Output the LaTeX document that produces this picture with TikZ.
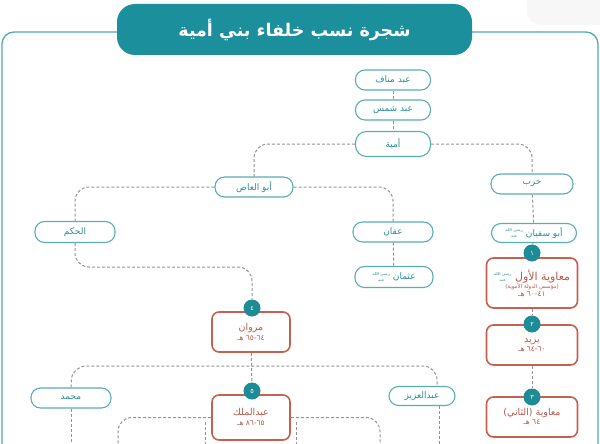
\documentclass[tikz,border=0pt]{standalone}
\usepackage{fontspec}
\TeXXeTstate=1
\newfontfamily\arabicfont[Script=Arabic]{DejaVu Sans}
\newfontfamily\iconfont[Script=Arabic,Color=6FAFB5]{DejaVu Sans Bold}
\definecolor{titlec}{HTML}{1B8F9B}
\definecolor{framec}{HTML}{4FA9AF}
\definecolor{pillc}{HTML}{5AADB3}
\definecolor{pilltxt}{HTML}{2B8F97}
\definecolor{redc}{HTML}{C8604F}
\definecolor{redtxt}{HTML}{B9594C}
\definecolor{badgec}{HTML}{1D8C97}
\newcommand{\rda}{\raisebox{-1.5pt}{\hbox{\iconfont\fontsize{3.8}{3.6}\selectfont\shortstack{\hbox{\beginR رضي الله\endR}\\\hbox{عنه}}}}}
\begin{document}
\begin{tikzpicture}[x=1pt,y=-1pt,
  titlebox/.style={fill=titlec, rounded corners=18pt, minimum width=355pt, minimum height=51pt, text=white, font=\arabicfont\bfseries\fontsize{17.5}{19}\selectfont, inner sep=0pt},
  pill/.style={draw=pillc, line width=1.1pt, fill=white, rounded corners=9.5pt, minimum width=78pt, minimum height=20pt, text=pilltxt, font=\arabicfont\fontsize{9}{10}\selectfont, inner sep=0pt},
  rbox/.style={draw=redc, line width=1.6pt, fill=white, rounded corners=7pt, minimum width=91pt, text=redtxt, align=center, inner sep=0pt, font=\arabicfont\fontsize{8}{11}\selectfont},
  badge/.style={circle, fill=badgec, minimum size=17pt, inner sep=0pt, text=white, font=\arabicfont\fontsize{6.5}{6.5}\selectfont},
  conn/.style={draw=gray!85, line width=1pt, dash pattern=on 3pt off 2pt, rounded corners=14pt}]
\useasboundingbox (0,0) rectangle (600,444);
\fill[gray!6, rounded corners=14pt] (527,-20) rectangle (630,25);
\draw[framec, line width=1.3pt, rounded corners=12pt] (2,450) -- (2,32) -- (598,32) -- (598,450);
\node[titlebox] (title) at (294.5,29.5) {\beginR شجرة نسب خلفاء بني أمية\endR};
% pills
\node[pill, minimum width=75pt] (manaf) at (393,80) {\beginR عبد مناف\endR};
\node[pill, minimum width=75pt] (shams) at (393,110) {\beginR عبد شمس\endR};
\node[pill, minimum width=75pt, minimum height=25pt, rounded corners=11pt] (umayya) at (393,144) {\beginR أمية\endR};
\node[pill, minimum width=82pt] (harb) at (532,184) {\beginR حرب\endR};
\node[pill, minimum width=85pt, minimum height=19pt] (abusufyan) at (534,233) {\beginR أبو سفيان \rda\endR};
\node[pill] (abulas) at (254,187) {\beginR أبو العاص\endR};
\node[pill, minimum width=80pt] (affan) at (393,232) {\beginR عفان\endR};
\node[pill, minimum height=21pt] (othman) at (394,277) {\beginR عثمان \rda\endR};
\node[pill, minimum width=80pt, minimum height=21pt] (hakam) at (75,232) {\beginR الحكم\endR};
\node[pill, minimum width=80pt] (mohammed) at (71,398) {\beginR محمد\endR};
\node[pill, minimum width=66pt, minimum height=19pt] (abdulaziz) at (422,396) {\beginR عبدالعزيز\endR};
% red boxes
\node[rbox, minimum height=50pt] (box1) at (532,283) {\raisebox{-2pt}{\fontsize{11}{12}\selectfont\beginR معاوية الأول \rda\endR}\\[-1pt]{\fontsize{5.5}{6}\selectfont\beginR (مؤسس الدولة الأموية)\endR}\\[-3pt]{\fontsize{7.5}{8}\selectfont\beginR ٤١-٦٠ هـ\endR}};
\node[rbox, minimum height=40pt] (box2) at (532,345) {{\fontsize{9.5}{11}\selectfont\beginR يزيد\endR}\\[-2pt]{\fontsize{7.5}{8}\selectfont\beginR ٦٠-٦٤ هـ\endR}};
\node[rbox, minimum height=40pt] (box3) at (532,417) {{\fontsize{9.5}{11}\selectfont\beginR معاوية (الثاني)\endR}\\[-2pt]{\fontsize{7.5}{8}\selectfont\beginR ٦٤ هـ\endR}};
\node[rbox, minimum width=78pt, minimum height=40pt] (marwan) at (251,332) {{\fontsize{9.5}{11}\selectfont\beginR مروان\endR}\\[-1pt]{\fontsize{7.5}{8}\selectfont\beginR ٦٤-٦٥ هـ\endR}};
\node[rbox, minimum width=78pt, minimum height=45pt] (abdulmalik) at (251,417.5) {{\fontsize{9.5}{11}\selectfont\beginR عبدالملك\endR}\\[-1pt]{\fontsize{7.5}{8}\selectfont\beginR ٦٥-٨٦ هـ\endR}};
% badges
\node[badge] (badge1) at (532,253) {١};
\node[badge] (badge2) at (532,324) {٢};
\node[badge] (badge3) at (532,397) {٣};
\node[badge] (badge4) at (252,308) {٤};
\node[badge] (badge5) at (252,391) {٥};
% coordinates
\coordinate (hm) at (252,267);
\coordinate (hL) at (72,366);
\coordinate (hR) at (437,366);
\coordinate (azTop) at (437,386.5);
\coordinate (azBot) at (439,405.5);
\coordinate (azEnd) at (439,450);
\coordinate (moEnd) at (71,450);
\coordinate (amL) at (118,450);
\coordinate (amR) at (380,450);
\coordinate (vA1) at (205,422);
\coordinate (vA2) at (205,450);
\coordinate (vB1) at (296,422);
\coordinate (vB2) at (296,450);
% connectors
\draw[conn] (manaf) -- (shams);
\draw[conn] (shams) -- (umayya);
\draw[conn] (umayya.west) -| (abulas.north);
\draw[conn] (umayya.east) -| (harb.north);
\draw[conn] (abulas.west) -| (hakam.north);
\draw[conn] (abulas.east) -| (affan.north);
\draw[conn] (affan) -- (othman);
\draw[conn] (harb) -- (abusufyan);
\draw[conn] (abusufyan) -- (badge1);
\draw[conn] (box1) -- (badge2);
\draw[conn] (box2) -- (badge3);
\draw[conn] (hakam.south) |- (hm) -- (badge4.north);
\draw[conn] (marwan) -- (badge5);
\draw[conn] (mohammed.north) -- (hL) -- (hR) -- (azTop);
\draw[conn] (mohammed.south) -- (moEnd);
\draw[conn] (azBot) -- (azEnd);
\draw[conn] (abdulmalik.west) -| (amL);
\draw[conn] (abdulmalik.east) -| (amR);
\draw[conn] (vA1) -- (vA2);
\draw[conn] (vB1) -- (vB2);
\end{tikzpicture}
\end{document}
